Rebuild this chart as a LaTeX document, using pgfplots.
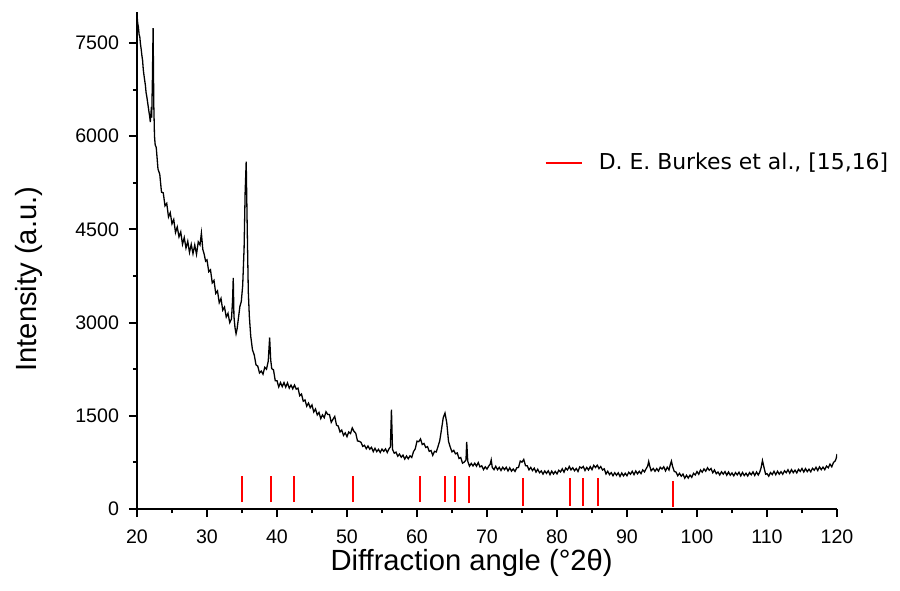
\documentclass[border=0pt]{standalone}
\usepackage{fontspec}
\setmainfont{Liberation Sans}
\newfontfamily\dejavu{DejaVu Sans}
\usepackage{pgfplots}
\pgfplotsset{compat=1.18}

\begin{document}
\begin{tikzpicture}
\begin{axis}[
    name=ax,
    scale only axis,
    width=350pt,
    height=248.5pt,
    xmin=20, xmax=120,
    ymin=0, ymax=8000,
    axis lines=left,
    axis line style={line width=1pt, -},
    xtick={20,30,...,120},
    ytick={0,1500,...,7500},
    minor x tick num=1,
    minor y tick num=1,
    tick align=outside,
    major tick length=4pt,
    minor tick length=2pt,
    tick style={line width=1pt, black},
    /pgf/number format/assume math mode=true,
    /pgf/number format/1000 sep={},
    tick label style={font=\fontsize{9.8}{11}\selectfont},
    xticklabel style={yshift=-3pt},
    yticklabel style={xshift=-1.5pt},
    label style={font=\fontsize{14.6}{17}\selectfont},
    xlabel={Diffraction angle (°2θ)},
    ylabel={Intensity (a.u.)},
    xlabel style={at={(axis description cs:0.478,-0.1247)}, anchor=base},
    ylabel style={at={(axis description cs:-0.1429,0.4625)}, anchor=base},
    legend style={at={(axis cs:78.17,5568)}, anchor=west, draw=none, fill=none,
        inner sep=0pt, font=\dejavu\fontsize{10.95}{12}\selectfont,
        nodes={inner xsep=4.6pt, inner ysep=1pt}},
    legend image code/.code={\draw[#1] (0pt,0pt) -- (18.3pt,0pt); \path (21.5pt,0pt);},
]
% measured pattern
\addplot[black, line width=0.65pt, forget plot] coordinates {
(20,7960) (20.1,7820) (20.2,7760) (20.3,7640) (20.4,7600) (20.5,7480) (20.6,7400) (20.7,7300)
(20.8,7220) (20.9,7070) (21,6980) (21.1,6900) (21.2,6820) (21.3,6700) (21.4,6640) (21.5,6560)
(21.6,6480) (21.7,6400) (21.8,6330) (21.9,6230) (22,6380) (22.1,6300) (22.2,6900) (22.3,7740)
(22.4,6500) (22.5,6000) (22.6,5860) (22.75,5820)
(23,5470) (23.25,5390) (23.5,5100) (23.75,5090) (24,4880) (24.25,4920) (24.5,4700) (24.75,4770)
(25,4590) (25.25,4660) (25.5,4450) (25.75,4540) (26,4380) (26.25,4460) (26.5,4260) (26.75,4370)
(27,4200) (27.25,4310) (27.5,4130) (27.75,4260) (28,4110) (28.25,4250) (28.5,4100) (28.75,4300)
(29,4250) (29.2,4440) (29.4,4180) (29.6,4100) (29.8,3990) (30,4010) (30.25,3820) (30.5,3850)
(30.75,3640) (31,3680) (31.25,3470) (31.5,3510) (31.75,3320) (32,3390) (32.25,3200) (32.5,3250)
(32.75,3090) (33,3150) (33.25,3000) (33.5,3060) (33.65,3350) (33.75,3720) (33.85,3100) (34,2920)
(34.15,2820) (34.3,2900) (34.5,3080) (34.7,3260) (34.9,3340) (35.1,3600) (35.3,4200) (35.45,5100)
(35.6,5590) (35.75,4500) (35.9,3500) (36.05,3100) (36.25,2780) (36.5,2560) (36.75,2480) (37,2320)
(37.25,2300) (37.5,2190) (37.75,2220) (38,2170) (38.25,2280) (38.5,2250) (38.75,2380) (38.95,2760)
(39.1,2400) (39.25,2260) (39.5,2240) (39.75,2065) (40,2065) (40.25,1965) (40.5,2035) (40.75,1970)
(41,2035) (41.25,1962) (41.5,2030) (41.75,1945) (42,1995) (42.25,1935) (42.5,1995) (42.75,1930)
(43,1945) (43.25,1822) (43.5,1850) (43.75,1735) (44,1755) (44.25,1655) (44.5,1705) (44.75,1630)
(45,1675) (45.25,1562) (45.5,1610) (45.75,1515) (46,1555) (46.25,1455) (46.5,1515) (46.75,1470)
(47,1565) (47.25,1522) (47.5,1520) (47.75,1395) (48,1445) (48.25,1490) (48.5,1350) (48.75,1335)
(49,1240) (49.25,1270) (49.5,1185) (49.75,1225) (50,1165) (50.25,1240) (50.5,1215) (50.75,1305)
(51,1250) (51.25,1220) (51.5,1095) (51.75,1090) (52,1073) (52.25,1008) (52.5,1025) (52.75,970)
(53,1014) (53.25,963) (53.5,992) (53.75,924) (54,978) (54.25,923) (54.5,960) (54.75,910)
(55,964) (55.25,928) (55.5,967) (55.75,909) (56,968) (56.2,1000) (56.35,1600) (56.5,960)
(56.75,898) (57,915) (57.25,850) (57.5,884) (57.75,833) (58,867) (58.25,804) (58.5,853)
(58.75,808) (59,855) (59.25,830) (59.5,924) (59.75,968) (60,1092) (60.25,1084) (60.5,1128)
(60.75,1038) (61,1055) (61.25,990) (61.5,1004) (61.75,928) (62,942) (62.25,864) (62.5,928)
(62.75,918) (63,1005) (63.25,1100) (63.5,1280) (63.75,1470) (64,1545) (64.25,1390) (64.5,1090)
(64.75,995) (65,920) (65.25,944) (65.5,888) (65.75,902) (66,814) (66.25,828) (66.5,738)
(66.75,755) (67,790) (67.1,1080) (67.25,770) (67.5,690) (67.75,734) (68,693) (68.25,737)
(68.5,689) (68.75,748) (69,678) (69.25,695) (69.5,635) (69.75,679) (70,643) (70.25,692)
(70.45,720) (70.6,790) (70.75,670) (71,634) (71.25,688) (71.5,633) (71.75,670) (72,620)
(72.25,672) (72.5,633) (72.75,672) (73,612) (73.25,663) (73.5,610) (73.75,645) (74,605)
(74.25,664) (74.5,668) (74.75,772) (75,754) (75.25,798) (75.5,698) (75.75,695) (76,630)
(76.25,669) (76.5,618) (76.75,657) (77,594) (77.25,640) (77.5,583) (77.75,613) (78,562)
(78.25,612) (78.5,573) (78.75,614) (79,554) (79.25,610) (79.5,563) (79.75,605) (80,565)
(80.25,624) (80.5,596) (80.75,647) (81,594) (81.25,658) (81.5,628) (81.75,685) (82,630)
(82.25,664) (82.5,616) (82.75,652) (83,604) (83.25,678) (83.5,658) (83.75,685) (84,620)
(84.25,669) (84.5,628) (84.75,682) (85,634) (85.25,703) (85.5,668) (85.75,705) (86,650)
(86.25,684) (86.5,628) (86.75,647) (87,564) (87.25,608) (87.5,553) (87.75,585) (88,535)
(88.25,584) (88.5,543) (88.75,582) (89,524) (89.25,580) (89.5,533) (89.75,575) (90,535)
(90.25,592) (90.5,560) (90.75,607) (91,554) (91.25,612) (91.5,566) (91.75,607) (92,570)
(92.25,629) (92.5,598) (92.75,652) (92.95,690) (93.1,765) (93.25,690) (93.45,615) (93.75,653)
(94,608) (94.25,650) (94.5,610) (94.75,672) (95,643) (95.25,680) (95.5,614) (95.75,673)
(96,628) (96.2,720) (96.35,770) (96.5,690) (96.75,605) (97,595) (97.25,535) (97.5,574)
(97.75,528) (98,562) (98.25,496) (98.5,543) (98.75,498) (99,545) (99.25,510) (99.5,574)
(99.75,548) (100,602) (100.25,559) (100.5,628) (100.75,593) (101,645) (101.25,608) (101.5,664)
(101.75,623) (102,652) (102.25,584) (102.5,628) (102.75,568) (103,595) (103.25,548) (103.5,599)
(103.75,561) (104,602) (104.25,543) (104.5,596) (104.75,544) (105,580) (105.25,534) (105.5,586)
(105.75,549) (106,592) (106.25,534) (106.5,588) (106.75,538) (107,575) (107.25,531) (107.5,586)
(107.75,551) (108,597) (108.25,540) (108.5,596) (108.75,548) (108.95,590) (109.15,660) (109.35,780)
(109.55,680) (109.8,560) (110,570) (110.25,528) (110.5,586) (110.75,554) (111,607) (111.25,552)
(111.5,608) (111.75,560) (112,600) (112.25,559) (112.5,616) (112.75,584) (113,632) (113.25,576)
(113.5,633) (113.75,585) (114,625) (114.25,582) (114.5,639) (114.75,605) (115,652) (115.25,595)
(115.5,650) (115.75,602) (116,640) (116.25,599) (116.5,656) (116.75,624) (117,672) (117.25,619)
(117.5,678) (117.75,633) (118,675) (118.25,633) (118.5,691) (118.75,663) (119,722) (119.25,679)
(119.5,750) (119.75,775) (119.9,820) (120,885)
};
% reference reflections
\addplot[red, line width=1pt, unbounded coords=jump] coordinates {
(35.07,110) (35.07,535) (35.07,nan)
(39.2,110) (39.2,535) (39.2,nan)
(42.44,110) (42.44,535) (42.44,nan)
(50.9,110) (50.9,535) (50.9,nan)
(60.37,110) (60.37,535) (60.37,nan)
(63.98,110) (63.98,535) (63.98,nan)
(65.45,110) (65.45,535) (65.45,nan)
(67.36,92) (67.36,530) (67.36,nan)
(75.15,56) (75.15,494) (75.15,nan)
(81.8,56) (81.8,494) (81.8,nan)
(83.76,56) (83.76,494) (83.76,nan)
(85.9,56) (85.9,494) (85.9,nan)
(96.5,37) (96.5,455)
};
\addlegendentry{D. E. Burkes et al., [15,16]}
\end{axis}
\pgfresetboundingbox
\path (ax.south west) ++(-68.5pt,-40.5pt) rectangle ++(450pt,295pt);
\end{tikzpicture}
\end{document}
